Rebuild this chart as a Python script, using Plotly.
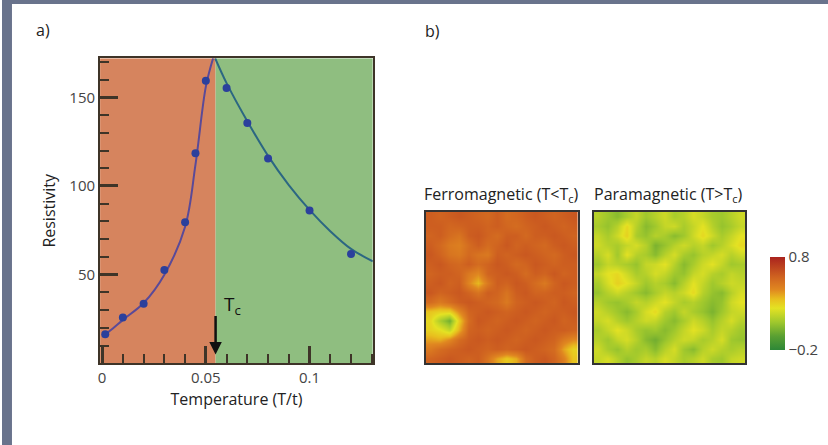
import plotly.graph_objects as go

# ---- panel a: resistivity vs temperature ----
TC = 0.0547  # critical temperature (T/t)

temp_pts = [0.0015, 0.010, 0.020, 0.030, 0.040, 0.045, 0.050,
            0.060, 0.070, 0.080, 0.100, 0.120]
resist_pts = [16.4, 25.8, 33.6, 52.6, 79.6, 118.5, 159.3,
              155.3, 135.5, 115.5, 86.2, 61.7]

fit_low_t = [0.0, 0.005, 0.010, 0.020, 0.030, 0.040, 0.045, 0.050, 0.0535]
fit_low_r = [15.0, 19.5, 24.5, 34.0, 50.0, 77.0, 112.0, 156.0, 172.0]
fit_high_t = [0.0545, 0.060, 0.070, 0.080, 0.090, 0.100, 0.110, 0.120, 0.1305]
fit_high_r = [172.0, 158.0, 136.5, 117.0, 100.5, 86.5, 74.5, 64.5, 57.5]

x_ticks = [0, 0.05, 0.1]
x_tick_text = ["0", "0.05", "0.1"]
y_ticks = [50, 100, 150]

# ---- panel b: local magnetisation maps (16 x 16, rows listed top to bottom) ----
ferro = [
    [.60, .58, .60, .62, .60, .58, .56, .60, .55, .57, .60, .62, .60, .58, .60, .62],
    [.60, .60, .57, .58, .60, .60, .58, .60, .57, .55, .58, .60, .62, .60, .58, .60],
    [.58, .60, .55, .52, .60, .62, .58, .55, .60, .60, .56, .60, .60, .62, .60, .58],
    [.60, .56, .50, .48, .55, .60, .55, .58, .62, .58, .60, .58, .56, .60, .62, .60],
    [.62, .58, .52, .50, .56, .52, .50, .60, .58, .60, .62, .60, .58, .56, .60, .62],
    [.60, .62, .58, .56, .60, .55, .58, .62, .60, .56, .58, .62, .60, .58, .60, .60],
    [.58, .60, .60, .58, .50, .45, .58, .60, .62, .60, .55, .60, .58, .62, .58, .60],
    [.60, .62, .58, .60, .46, .36, .50, .60, .58, .62, .60, .55, .50, .58, .62, .60],
    [.62, .58, .60, .62, .58, .52, .60, .58, .52, .60, .62, .58, .58, .60, .60, .58],
    [.55, .50, .55, .60, .62, .60, .58, .56, .50, .58, .60, .62, .60, .58, .62, .60],
    [.33, .30, .30, .45, .58, .60, .62, .60, .58, .60, .62, .60, .58, .60, .60, .62],
    [.28, .12, .00, .32, .55, .62, .60, .58, .60, .62, .60, .58, .60, .62, .58, .60],
    [.30, .26, .18, .38, .58, .60, .58, .60, .62, .60, .58, .60, .62, .60, .60, .58],
    [.40, .38, .45, .55, .60, .62, .60, .62, .60, .58, .60, .62, .60, .58, .50, .45],
    [.50, .55, .58, .60, .62, .60, .58, .60, .58, .60, .62, .60, .58, .55, .40, .30],
    [.58, .60, .62, .60, .58, .60, .52, .40, .32, .38, .55, .60, .62, .58, .48, .33],
]

para = [
    [.15, .10, .05, .12, .18, .10, .15, .20, .12, .15, .22, .18, .12, .10, .15, .20],
    [.12, .08, .15, .28, .15, .05, .10, .18, .20, .12, .18, .25, .15, .08, .12, .18],
    [.18, .12, .20, .30, .12, .08, .15, .12, .05, .10, .20, .28, .20, .12, .18, .25],
    [.20, .15, .12, .18, .22, .15, .02, .08, .15, .20, .15, .18, .10, .15, .22, .28],
    [.15, .22, .10, .25, .15, .12, .05, .15, .22, .12, .08, .15, .18, .22, .15, .20],
    [.10, .18, .15, .12, .08, .18, .20, .25, .15, .05, .12, .20, .25, .18, .10, .12],
    [.18, .25, .28, .20, .12, .15, .22, .18, .10, .08, .18, .22, .15, .12, .18, .15],
    [.12, .22, .30, .25, .18, .10, .15, .12, .05, .15, .25, .18, .10, .15, .20, .18],
    [.08, .15, .20, .15, .10, .05, .12, .18, .15, .20, .28, .15, .08, .05, .15, .22],
    [.15, .10, .08, .12, .18, .15, .20, .25, .18, .12, .15, .10, .05, .08, .20, .25],
    [.20, .15, .10, .05, .12, .22, .28, .15, .10, .18, .12, .08, .02, .10, .18, .20],
    [.18, .22, .15, .10, .15, .20, .18, .10, .05, .12, .20, .15, .08, .15, .22, .15],
    [.12, .18, .25, .20, .12, .08, .10, .05, .10, .18, .25, .20, .12, .18, .15, .10],
    [.15, .10, .18, .22, .15, .05, .00, .08, .15, .20, .18, .12, .15, .22, .10, .08],
    [.20, .12, .08, .15, .10, .12, .05, .15, .22, .10, .05, .15, .20, .15, .12, .15],
    [.18, .22, .15, .08, .12, .18, .15, .22, .18, .12, .15, .20, .12, .10, .18, .20],
]

Z_MIN, Z_MAX = -0.2, 0.8
cbar_ticks = [0.8, -0.2]
cbar_text = ["0.8", "\u22120.2"]

colorscale = [
    [0.00, "rgb(45,135,55)"],
    [0.15, "rgb(90,160,50)"],
    [0.30, "rgb(160,200,45)"],
    [0.45, "rgb(228,226,35)"],
    [0.55, "rgb(232,190,30)"],
    [0.65, "rgb(224,135,32)"],
    [0.78, "rgb(208,100,32)"],
    [1.00, "rgb(170,35,30)"],
]

FONT = "Open Sans"
W, H = 828, 445


def px_x(p):
    return p / W


def px_y(p):
    return 1 - p / H


fig = go.Figure()

# fitted curves
fig.add_trace(go.Scatter(x=fit_low_t, y=fit_low_r, mode="lines", line_shape="spline",
                         line=dict(color="#5a4a98", width=2), hoverinfo="skip",
                         xaxis="x", yaxis="y", showlegend=False))
fig.add_trace(go.Scatter(x=fit_high_t, y=fit_high_r, mode="lines", line_shape="spline",
                         line=dict(color="#2c6782", width=2), hoverinfo="skip",
                         xaxis="x", yaxis="y", showlegend=False))
# measured points
fig.add_trace(go.Scatter(x=temp_pts, y=resist_pts, mode="markers",
                         marker=dict(color="#2b409c", size=8),
                         xaxis="x", yaxis="y", showlegend=False))

# magnetisation maps
fig.add_trace(go.Heatmap(z=ferro, zmin=Z_MIN, zmax=Z_MAX, colorscale=colorscale,
                         zsmooth="best", showscale=False, xaxis="x2", yaxis="y2"))
fig.add_trace(go.Heatmap(z=para, zmin=Z_MIN, zmax=Z_MAX, colorscale=colorscale,
                         zsmooth="best", xaxis="x3", yaxis="y3",
                         colorbar=dict(x=px_x(760), xanchor="left", y=px_y(303.5), yanchor="middle",
                                       len=113 / H, lenmode="fraction", thickness=15,
                                       outlinewidth=0, tickvals=cbar_ticks, ticktext=cbar_text,
                                       ticks="", tickfont=dict(family=FONT, size=15, color="#444"))))

axis_col = "#3e3428"
map_axis = dict(showgrid=False, zeroline=False, showticklabels=False, ticks="",
                showline=True, mirror=True, linecolor="#333", linewidth=1.5)

fig.update_layout(
    width=W, height=H,
    margin=dict(l=0, r=0, t=0, b=0),
    paper_bgcolor="white",
    plot_bgcolor="white",
    font=dict(family=FONT, color="#222"),
    xaxis=dict(domain=[px_x(98.3), px_x(371.7)], range=[-0.001, 0.1305], anchor="y",
               showgrid=False, zeroline=False, showline=True, mirror=True,
               linecolor=axis_col, linewidth=2,
               tickvals=x_ticks, ticktext=x_tick_text, ticks="inside", ticklen=17,
               tickwidth=3, tickcolor=axis_col,
               minor=dict(ticks="inside", dtick=0.01, tick0=0, ticklen=9, tickwidth=2,
                          tickcolor=axis_col),
               tickfont=dict(size=15, color="#444"),
               title=dict(text="Temperature (T/t)", font=dict(size=16, color="#222"), standoff=8)),
    yaxis=dict(domain=[px_y(363.3), px_y(58.3)], range=[0, 172], anchor="x",
               showgrid=False, zeroline=False, showline=True, mirror=True,
               linecolor=axis_col, linewidth=2,
               tickvals=y_ticks, ticks="inside", ticklen=18, tickwidth=3, tickcolor=axis_col,
               minor=dict(ticks="inside", dtick=10, tick0=0, ticklen=9, tickwidth=2,
                          tickcolor=axis_col),
               tickfont=dict(size=15, color="#444"),
               title=dict(text="Resistivity", font=dict(size=16, color="#222"), standoff=10)),
    xaxis2=dict(domain=[px_x(425), px_x(577)], range=[-0.5, 15.5], anchor="y2", **map_axis),
    yaxis2=dict(domain=[px_y(363.3), px_y(212)], range=[15.5, -0.5], anchor="x2", **map_axis),
    xaxis3=dict(domain=[px_x(593), px_x(745)], range=[-0.5, 15.5], anchor="y3", **map_axis),
    yaxis3=dict(domain=[px_y(363.3), px_y(212)], range=[15.5, -0.5], anchor="x3", **map_axis),
)

# phase regions behind the resistivity curve
fig.add_shape(type="rect", xref="x", yref="y", x0=-0.001, x1=TC, y0=0, y1=172,
              fillcolor="#d6845e", line=dict(width=0), layer="below")
fig.add_shape(type="rect", xref="x", yref="y", x0=TC, x1=0.1305, y0=0, y1=172,
              fillcolor="#8fbe80", line=dict(width=0), layer="below")

# page frame strips
fig.add_shape(type="rect", xref="paper", yref="paper", x0=0, x1=px_x(10), y0=0, y1=1,
              fillcolor="#69738c", line=dict(width=0), layer="above")
fig.add_shape(type="rect", xref="paper", yref="paper", x0=0, x1=1, y0=px_y(4), y1=1,
              fillcolor="#69738c", line=dict(width=0), layer="above")

# Tc marker
fig.add_annotation(x=TC, y=5, ax=TC, ay=27.5, xref="x", yref="y", axref="x", ayref="y",
                   showarrow=True, arrowhead=2, arrowsize=1, arrowwidth=2.5,
                   arrowcolor="#111", text="")
fig.add_annotation(x=TC + 0.003, y=33, xref="x", yref="y", xanchor="left", yanchor="middle",
                   text="T<sub>c</sub>", showarrow=False, font=dict(size=19, color="#111"))

# panel labels and map titles
fig.add_annotation(x=px_x(32), y=px_y(30), xref="paper", yref="paper", xanchor="left",
                   yanchor="middle", text="a)", showarrow=False, font=dict(size=16, color="#222"))
fig.add_annotation(x=px_x(422), y=px_y(31), xref="paper", yref="paper", xanchor="left",
                   yanchor="middle", text="b)", showarrow=False, font=dict(size=16, color="#222"))
fig.add_annotation(x=px_x(421), y=px_y(194), xref="paper", yref="paper", xanchor="left",
                   yanchor="middle", text="Ferromagnetic (T&lt;T<sub>c</sub>)", showarrow=False,
                   font=dict(size=16, color="#222"))
fig.add_annotation(x=px_x(591), y=px_y(194), xref="paper", yref="paper", xanchor="left",
                   yanchor="middle", text="Paramagnetic (T&gt;T<sub>c</sub>)", showarrow=False,
                   font=dict(size=16, color="#222"))

fig.write_html("out.html")
